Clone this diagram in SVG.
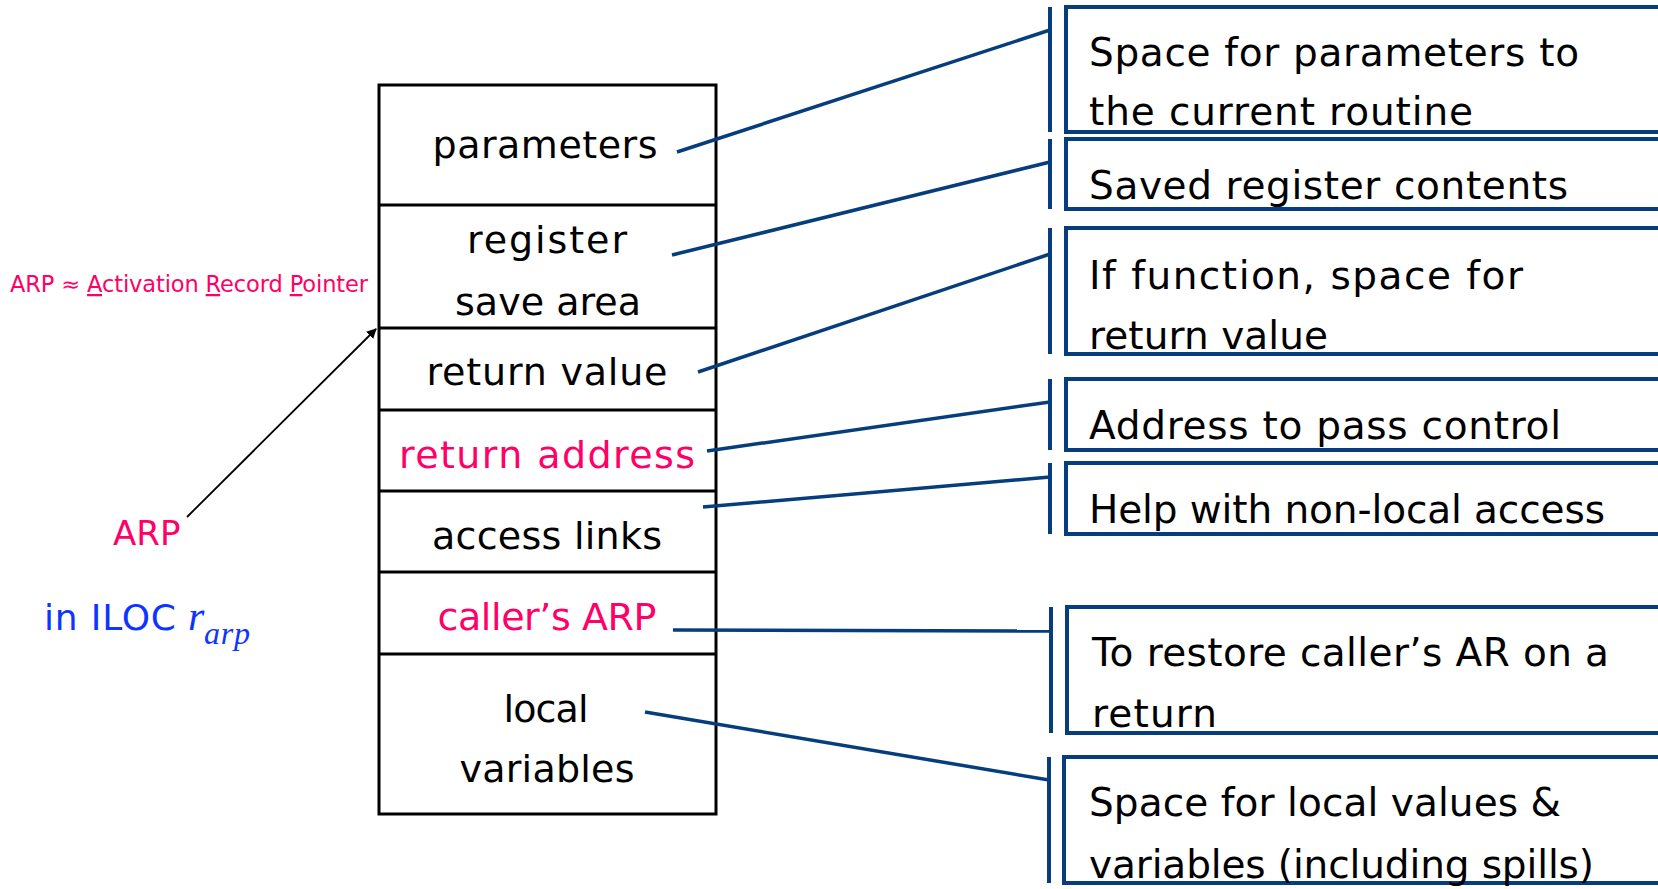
<svg xmlns="http://www.w3.org/2000/svg" width="1658" height="889" viewBox="0 0 1658 889">
<style>
.cell{fill:none;stroke:#000;stroke-width:3}
.t{font-family:"DejaVu Sans","Liberation Sans",sans-serif;font-size:38px;fill:#000}
.r{font-size:39px}
.mid{text-anchor:middle}
.pink{fill:#FF0066}
.blue{fill:#1034FF}
.note{fill:none;stroke:#063D7C;stroke-width:4}
.bar{stroke:#063D7C;stroke-width:4}
.conn{stroke:#063D7C;stroke-width:3.5;fill:none}
.ser{font-family:"Liberation Serif",serif;font-style:italic}
</style>
<defs>
<marker id="ah" markerWidth="10" markerHeight="10" refX="9" refY="5" orient="auto" markerUnits="userSpaceOnUse" viewBox="0 0 10 10">
<path d="M0,0 L10,5 L0,10 z" fill="#000"/>
</marker>
</defs>
<rect width="1658" height="889" fill="#fff"/>

<g id="stack">
<rect class="cell" x="379" y="85" width="337" height="729"/>
<line class="cell" x1="379" y1="205" x2="716" y2="205"/>
<line class="cell" x1="379" y1="328" x2="716" y2="328"/>
<line class="cell" x1="379" y1="410" x2="716" y2="410"/>
<line class="cell" x1="379" y1="491" x2="716" y2="491"/>
<line class="cell" x1="379" y1="572" x2="716" y2="572"/>
<line class="cell" x1="379" y1="654" x2="716" y2="654"/>
</g>
<g id="cell-parameters"><text class="t mid" x="545" y="158" textLength="225">parameters</text></g>
<g id="cell-register"><text class="t mid" x="547" y="253" textLength="160">register</text><text class="t mid" x="548" y="315" textLength="186">save area</text></g>
<g id="cell-return-value"><text class="t mid" x="547" y="385" textLength="241">return value</text></g>
<g id="cell-return-address"><text class="t mid pink" x="547" y="468" textLength="296">return address</text></g>
<g id="cell-access-links"><text class="t mid" x="547" y="549" textLength="230">access links</text></g>
<g id="cell-callers-arp"><text class="t mid pink" x="547" y="630" textLength="219">caller’s ARP</text></g>
<g id="cell-local"><text class="t mid" x="546" y="722" textLength="85">local</text><text class="t mid" x="547" y="782" textLength="175">variables</text></g>

<g id="arp-label">
<text class="t pink" x="10" y="292" style="font-size:22.5px" textLength="358">ARP ≈ <tspan text-decoration="underline">A</tspan>ctivation <tspan text-decoration="underline">R</tspan>ecord <tspan text-decoration="underline">P</tspan>ointer</text>
<text class="t pink" x="113" y="545" style="font-size:34px">ARP</text>
<text class="t blue" x="44" y="630" style="font-size:36px" textLength="132">in ILOC</text>
<text class="ser blue" x="188" y="630" style="font-size:42px">r</text>
<text class="ser blue" x="204" y="644" style="font-size:32px" textLength="46">arp</text>
</g>

<g id="note1"><line class="bar" x1="1050" y1="7" x2="1050" y2="132"/><rect class="note" x="1066" y="7" width="640" height="125"/>
<text class="t r" x="1089" y="66" textLength="490">Space for parameters to</text><text class="t r" x="1089" y="125" textLength="384">the current routine</text></g>
<g id="note2"><line class="bar" x1="1050" y1="139" x2="1050" y2="209"/><rect class="note" x="1066" y="139" width="640" height="70"/>
<text class="t r" x="1089" y="199" textLength="479">Saved register contents</text></g>
<g id="note3"><line class="bar" x1="1050" y1="228" x2="1050" y2="354"/><rect class="note" x="1066" y="228" width="640" height="126"/>
<text class="t r" x="1089" y="289" textLength="434">If function, space for</text><text class="t r" x="1089" y="349" textLength="239">return value</text></g>
<g id="note4"><line class="bar" x1="1050" y1="379" x2="1050" y2="450"/><rect class="note" x="1066" y="379" width="640" height="71"/>
<text class="t r" x="1089" y="439" textLength="472">Address to pass control</text></g>
<g id="note5"><line class="bar" x1="1050" y1="463" x2="1050" y2="534"/><rect class="note" x="1066" y="463" width="640" height="71"/>
<text class="t r" x="1089" y="523" textLength="516">Help with non-local access</text></g>
<g id="note6"><line class="bar" x1="1051" y1="607" x2="1051" y2="733"/><rect class="note" x="1067" y="607" width="640" height="126"/>
<text class="t r" x="1092" y="666" textLength="517">To restore caller’s AR on a</text><text class="t r" x="1092" y="727" textLength="125">return</text></g>
<g id="note7"><line class="bar" x1="1049" y1="757" x2="1049" y2="883"/><rect class="note" x="1064" y="757" width="640" height="126"/>
<text class="t r" x="1089" y="816" textLength="472">Space for local values &amp;</text><text class="t r" x="1089" y="878" textLength="505">variables (including spills)</text></g>

<g id="connectors">
<line class="conn" x1="677" y1="152" x2="1050" y2="30"/>
<line class="conn" x1="672" y1="255" x2="1050" y2="162"/>
<line class="conn" x1="698" y1="372" x2="1050" y2="254"/>
<line class="conn" x1="707" y1="451" x2="1050" y2="402"/>
<line class="conn" x1="703" y1="507" x2="1050" y2="477"/>
<line class="conn" x1="673" y1="630" x2="1051" y2="631"/>
<line class="conn" x1="645" y1="712" x2="1049" y2="780"/>
<line x1="187" y1="517" x2="376" y2="329" stroke="#000" stroke-width="1.8" marker-end="url(#ah)"/>
</g>
</svg>
